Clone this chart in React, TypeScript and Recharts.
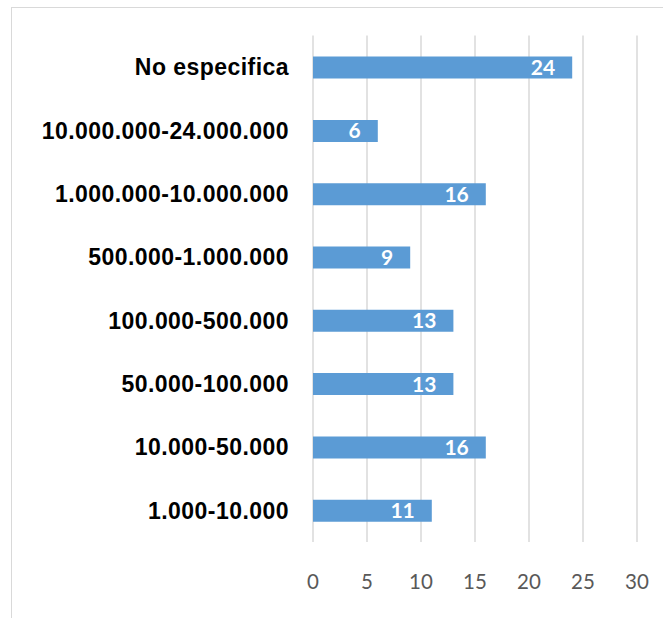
import React from "react";
import { BarChart, Bar, XAxis, YAxis, CartesianGrid, LabelList } from "recharts";

const categories = [
  "No especifica",
  "10.000.000-24.000.000",
  "1.000.000-10.000.000",
  "500.000-1.000.000",
  "100.000-500.000",
  "50.000-100.000",
  "10.000-50.000",
  "1.000-10.000",
];
const values = [24, 6, 16, 9, 13, 13, 16, 11];
const xTicks = [0, 5, 10, 15, 20, 25, 30];

const data = categories.map((c, i) => ({ name: c, value: values[i] }));

export default function App() {
  return (
    <div style={{ position: "absolute", left: 0, top: 0, width: 663, height: 618, background: "#fff", overflow: "hidden" }}>
      <div
        style={{
          position: "absolute",
          left: 11,
          top: 7,
          width: 700,
          height: 700,
          borderTop: "1.5px solid #d9d9d9",
          borderLeft: "1.5px solid #d9d9d9",
        }}
      />
      <div style={{ position: "absolute", left: 0, top: 0 }}>
        <BarChart
          width={663}
          height={618}
          data={data}
          layout="vertical"
          margin={{ top: 35.6, right: 26, bottom: 0, left: 0 }}
        >
          <CartesianGrid horizontal={false} stroke="#d9d9d9" strokeWidth={1.5} />
          <XAxis
            type="number"
            domain={[0, 30]}
            ticks={xTicks}
            axisLine={false}
            tickLine={false}
            tickSize={0}
            tickMargin={32}
            height={76}
            interval={0}
            tick={{ fill: "#595959", fontSize: 20.5, fontFamily: "Lato" }}
          />
          <YAxis
            type="category"
            dataKey="name"
            width={313}
            axisLine={false}
            tickLine={false}
            tickSize={0}
            tickMargin={24}
            interval={0}
            tick={{ fill: "#000", fontSize: 23, fontWeight: "bold", fontFamily: "Liberation Sans", letterSpacing: 0.45 }}
          />
          <Bar dataKey="value" fill="#5b9bd5" barSize={22} isAnimationActive={false}>
            <LabelList
              dataKey="value"
              position="insideRight"
              offset={17}
              fill="#fff"
              style={{ fontSize: 21, fontWeight: "bold", fontFamily: "Lato" }}
            />
          </Bar>
        </BarChart>
      </div>
    </div>
  );
}
